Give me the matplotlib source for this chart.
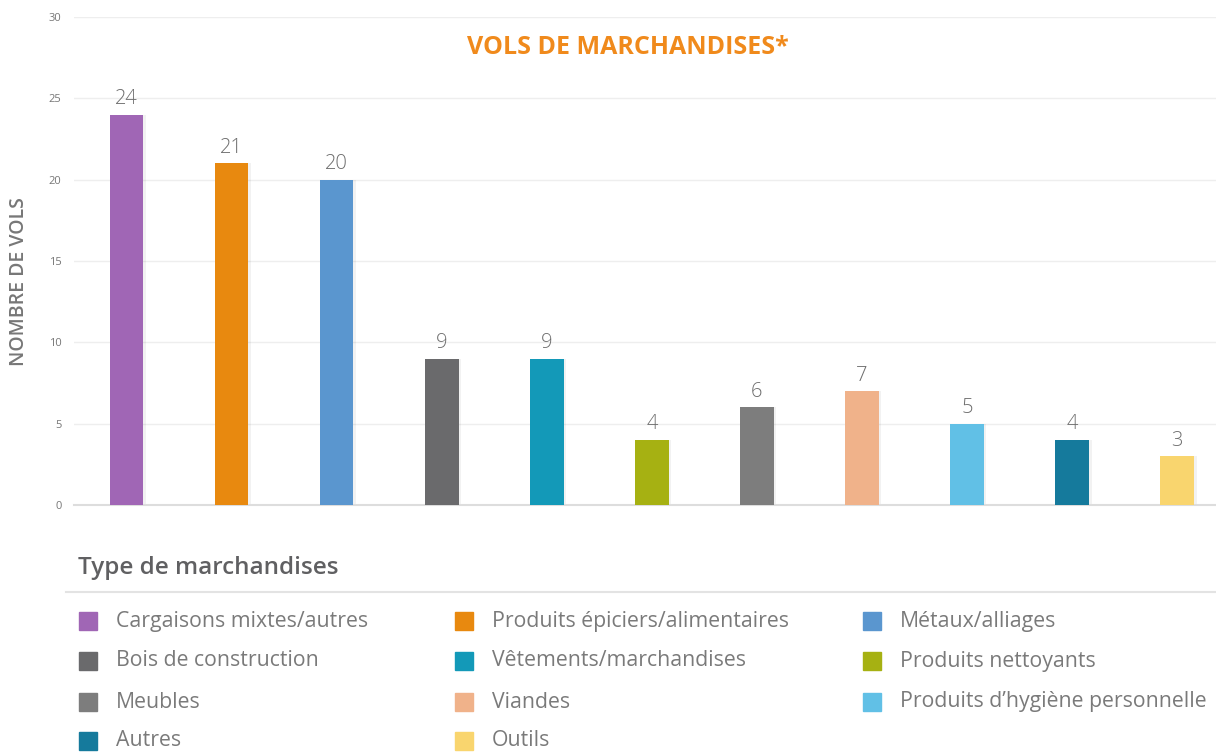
import numpy as np
import matplotlib.pyplot as plt
from matplotlib.patches import Rectangle

plt.rcParams["font.family"] = ["Open Sans", "DejaVu Sans"]

categories = [
    "Cargaisons mixtes/autres",
    "Produits épiciers/alimentaires",
    "Métaux/alliages",
    "Bois de construction",
    "Vêtements/marchandises",
    "Produits nettoyants",
    "Meubles",
    "Viandes",
    "Produits d\u2019hygiène personnelle",
    "Autres",
    "Outils",
]
counts = [24, 21, 20, 9, 9, 4, 6, 7, 5, 4, 3]
colors = [
    "#A066B5", "#E8890F", "#5A96CF", "#6A6A6C", "#1399B8", "#A6B112",
    "#7D7D7D", "#F0B28A", "#61C0E6", "#157A9C", "#F9D56E",
]
yticks = [0, 5, 10, 15, 20, 25, 30]

W, H = 1216, 753
fig = plt.figure(figsize=(W / 100, H / 100), dpi=100)
ax = fig.add_axes([74 / W, 1 - 505 / H, 1 - 74 / W, (505 - 17) / H])

x = np.arange(len(categories))
width = 0.32

# soft shadow to the right of each bar
ax.bar(x + 0.025, counts, width, color="#000000", alpha=0.05, zorder=2)
bars = ax.bar(x, counts, width, color=colors, zorder=3)
ax.bar_label(bars, padding=4, fontsize=14.5, fontweight="light", color="#6e6e6e")

ax.set_xlim(-0.5, 10.37)
ax.set_ylim(0, 30)
ax.set_yticks(yticks)
ax.set_xticks([])
ax.yaxis.grid(True, color="#eeeeee", linewidth=1)
ax.set_axisbelow(True)
for s in ["top", "right", "left"]:
    ax.spines[s].set_visible(False)
ax.spines["bottom"].set_color("#dddddd")
ax.spines["bottom"].set_linewidth(1.5)
ax.tick_params(axis="y", length=0, pad=9, labelsize=8, labelcolor="#777777")

fig.text(628 / W, 1 - 47 / H, "VOLS DE MARCHANDISES*", ha="center", va="center",
         fontsize=18, fontweight="bold", color="#F08A1C")
fig.text(19 / W, 1 - 282 / H, "NOMBRE DE VOLS", ha="center", va="center",
         rotation=90, fontsize=14, fontweight="semibold", color="#777777")

# legend block
fig.text(78 / W, 1 - 568 / H, "Type de marchandises", ha="left", va="center",
         fontsize=17.5, fontweight="semibold", color="#606062")
fig.add_artist(plt.Line2D([66 / W, 1.0], [1 - 592 / H, 1 - 592 / H],
                          transform=fig.transFigure, color="#e3e3e3", linewidth=1.5))

col_x = [79, 455, 863]
row_y = [621, 661, 702, 741]
for i, (lab, c) in enumerate(zip(categories, colors)):
    row, col = divmod(i, 3)
    px, py = col_x[col], row_y[row]
    fig.add_artist(Rectangle((px / W, 1 - (py + 9) / H), 18 / W, 18 / H,
                             transform=fig.transFigure, color=c))
    fig.text((px + 37) / W, 1 - py / H, lab, ha="left", va="center",
             fontsize=15.3, color="#7a7a7a")

plt.savefig("out.png", dpi=100)
plt.close()
